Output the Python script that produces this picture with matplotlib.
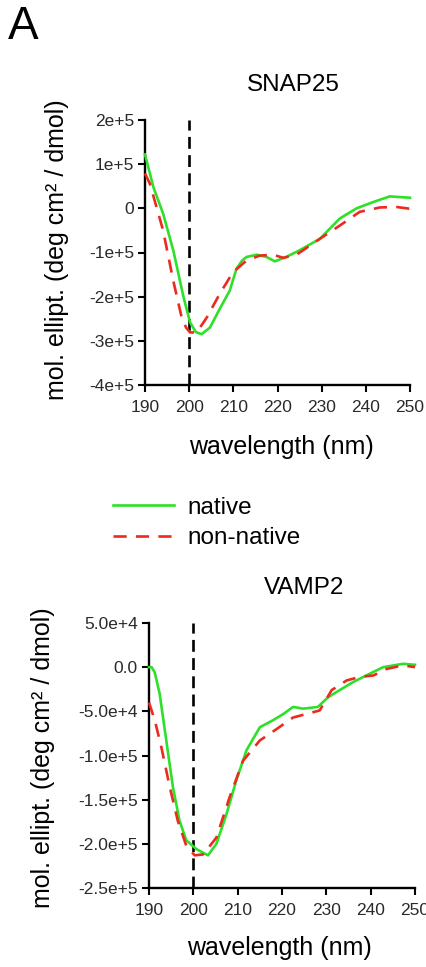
import matplotlib
matplotlib.use('Agg')
import matplotlib.pyplot as plt

plt.rcParams['font.family'] = ['Liberation Sans', 'DejaVu Sans']

# SNAP25 CD spectra
snap_wl_native = [190, 191.9, 194.1, 196.4, 198.7, 200.2, 201.5, 202.8, 204.7, 206.9, 209.2,
                  210.7, 212, 213, 215.3, 217.5, 219.4, 222, 225, 229.6, 234.1, 237.9, 241.6,
                  245.4, 250]
snap_native = [1.22e5, 0.48e5, -0.12e5, -0.95e5, -2.0e5, -2.58e5, -2.8e5, -2.85e5, -2.7e5,
               -2.28e5, -1.86e5, -1.37e5, -1.18e5, -1.1e5, -1.05e5, -1.1e5, -1.2e5, -1.1e5,
               -0.95e5, -0.69e5, -0.23e5, 0.0, 0.14e5, 0.27e5, 0.24e5]
snap_wl_nonnative = [190, 191.1, 194.1, 196.4, 198.3, 199.3, 200.2, 201.7, 204, 206.9, 209.9,
                     213, 216, 219, 221.3, 224.3, 229.6, 234.1, 238.6, 243.2, 247, 250]
snap_nonnative = [0.79e5, 0.56e5, -0.5e5, -1.64e5, -2.47e5, -2.7e5, -2.81e5, -2.81e5, -2.47e5,
                  -1.94e5, -1.45e5, -1.18e5, -1.07e5, -1.05e5, -1.12e5, -1.05e5, -0.69e5,
                  -0.39e5, -0.08e5, 0.02e5, 0.03e5, -0.01e5]

# VAMP2 CD spectra
vamp_wl_native = [190, 190.6, 191.3, 192.4, 193.9, 195.4, 196.9, 198.4, 200.7, 203.3, 205.2,
                  207.5, 209.7, 212, 215, 218, 220.3, 222.5, 224.8, 228.1, 230.4, 233, 236,
                  239, 242.8, 247.3, 250]
vamp_native = [0, 0, -0.6e4, -3.0e4, -8.3e4, -13.6e4, -17.4e4, -19.6e4, -20.6e4, -21.3e4,
               -20.0e4, -16.6e4, -12.8e4, -9.4e4, -6.8e4, -6.0e4, -5.3e4, -4.5e4, -4.7e4,
               -4.5e4, -3.4e4, -2.6e4, -1.7e4, -0.94e4, 0, 0.38e4, 0.27e4]
vamp_wl_nonnative = [190, 191.3, 192.8, 194.7, 196.5, 198.4, 200.3, 202.2, 205.2, 208.2, 211.2,
                     215, 218.8, 222.5, 225.5, 228.5, 231.2, 234.6, 237.6, 240.6, 243.6,
                     247.3, 250]
vamp_nonnative = [-4.0e4, -6.0e4, -9.1e4, -13.6e4, -17.4e4, -20.2e4, -21.3e4, -21.2e4,
                  -19.3e4, -14.7e4, -10.6e4, -8.3e4, -7.0e4, -5.7e4, -5.3e4, -4.9e4, -2.6e4,
                  -1.5e4, -1.1e4, -0.94e4, -0.2e4, 0.2e4, 0]

snap_yticks = [2e5, 1e5, 0, -1e5, -2e5, -3e5, -4e5]
snap_yticklabels = ['2e+5', '1e+5', '0', '-1e+5', '-2e+5', '-3e+5', '-4e+5']
vamp_yticks = [5e4, 0, -5e4, -1e5, -1.5e5, -2e5, -2.5e5]
vamp_yticklabels = ['5.0e+4', '0.0', '-5.0e+4', '-1.0e+5', '-1.5e+5', '-2.0e+5', '-2.5e+5']
xticks = [190, 200, 210, 220, 230, 240, 250]

GREEN = '#2ee02a'
RED = '#ec2a1e'

fig = plt.figure(figsize=(4.27, 9.67), dpi=100)
W, H = 427.0, 967.0

ax1 = fig.add_axes([145 / W, 1 - 385 / H, 265 / W, 265 / H])
ax2 = fig.add_axes([149 / W, 1 - 888 / H, 266 / W, 265 / H])


def style(ax, yticks, yticklabels, ylim):
    ax.set_xlim(190, 250)
    ax.set_ylim(*ylim)
    ax.set_xticks(xticks)
    ax.set_xticklabels([str(t) for t in xticks])
    ax.set_yticks(yticks)
    ax.set_yticklabels(yticklabels)
    for s in ['top', 'right']:
        ax.spines[s].set_visible(False)
    for s in ['left', 'bottom']:
        ax.spines[s].set_linewidth(1.7)
        ax.spines[s].set_color('black')
    ax.tick_params(direction='out', length=5, width=1.5, labelsize=12.5,
                   labelcolor='#2a2a2a', pad=3)
    ax.tick_params(axis='x', pad=6)
    ax.axvline(200, color='black', lw=1.9, dashes=(4.5, 2.4), zorder=3)


style(ax1, snap_yticks, snap_yticklabels, (-4e5, 2e5))
style(ax2, vamp_yticks, vamp_yticklabels, (-2.5e5, 5e4))

l1, = ax1.plot(snap_wl_native, snap_native, color=GREEN, lw=1.9, label='native', zorder=4)
l2, = ax1.plot(snap_wl_nonnative, snap_nonnative, color=RED, lw=1.9, dashes=(5, 3.5),
               label='non-native', zorder=5)
ax2.plot(vamp_wl_native, vamp_native, color=GREEN, lw=1.9, zorder=4)
ax2.plot(vamp_wl_nonnative, vamp_nonnative, color=RED, lw=1.9, dashes=(5, 3.5), zorder=5)
for ax in (ax1, ax2):
    for line in ax.lines[1:]:
        line.set_clip_on(False)

# panel letter, titles and axis labels
fig.text(8 / W, 1 - 27 / H, 'A', fontsize=33, va='center', ha='left')
fig.text(293 / W, 1 - 85 / H, 'SNAP25', fontsize=17.5, ha='center', va='center')
fig.text(304 / W, 1 - 588 / H, 'VAMP2', fontsize=17.5, ha='center', va='center')
fig.text(281 / W, 1 - 447 / H, 'wavelength (nm)', fontsize=18, ha='center', va='center')
fig.text(279 / W, 1 - 948 / H, 'wavelength (nm)', fontsize=18, ha='center', va='center')
ylab = 'mol. ellipt. (deg cm\u00b2 / dmol)'
fig.text(57 / W, 1 - 250 / H, ylab, fontsize=18, rotation=90, ha='center', va='center')
fig.text(43 / W, 1 - 758 / H, ylab, fontsize=18, rotation=90, ha='center', va='center')

fig.legend(handles=[l1, l2], loc='center left', bbox_to_anchor=(101 / W, 1 - 523 / H),
           frameon=False, fontsize=17.5, handlelength=2.5, handletextpad=0.55,
           labelspacing=0.35, borderpad=0)

fig.savefig('out.png', dpi=100)
